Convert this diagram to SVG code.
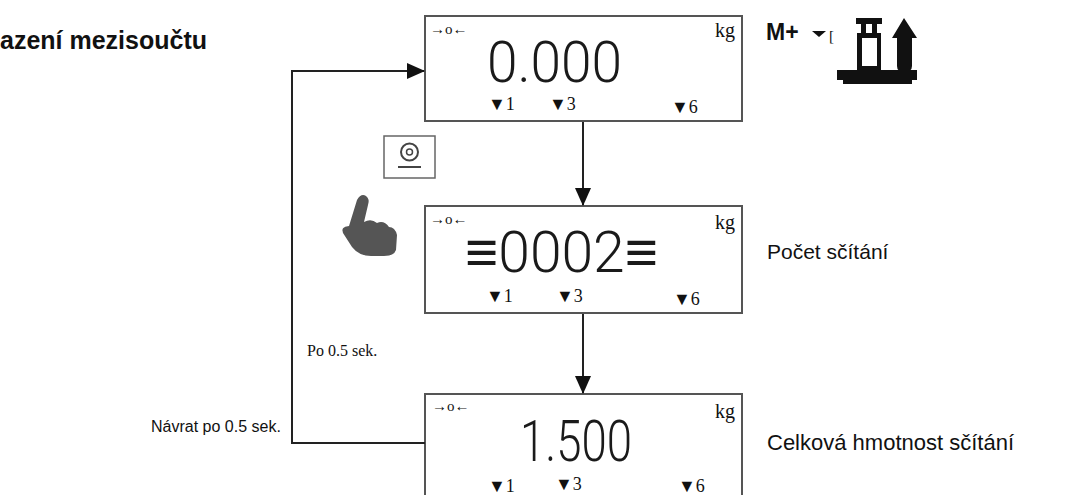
<svg xmlns="http://www.w3.org/2000/svg" width="1068" height="495" viewBox="0 0 1068 495">
<style>
.box{fill:#fff;stroke:#555;stroke-width:2}
.lbl{font-family:"Liberation Sans",Arial,sans-serif;fill:#111}
.bold{font-family:"Liberation Sans",Arial,sans-serif;font-weight:bold;fill:#111}
.ser{font-family:"Liberation Serif","Times New Roman",serif;fill:#111}
.lcd{font-family:"Roboto","Liberation Sans",Arial,sans-serif;font-weight:300;font-size:58px;fill:#1a1a1a}
.con{fill:none;stroke:#222;stroke-width:2}
</style>
<defs>
<marker id="ahb" markerWidth="18" markerHeight="18" refX="17" refY="9" orient="auto" markerUnits="userSpaceOnUse" viewBox="0 0 18 18">
<path d="M0,1 L18,9 L0,17 Z" fill="#111"/>
</marker>
</defs>

<text class="bold" x="0" y="49" font-size="25">azení mezisoučtu</text>

<g id="header-icon">
<text class="bold" x="766" y="40" font-size="23">M+</text>
<path d="M812,31 L826,31 L819,37 Z" fill="#111"/>
<text class="ser" x="829" y="41" font-size="15" fill="#555">[</text>
<rect x="856" y="18" width="26" height="6" fill="#111"/>
<rect x="861" y="24" width="5" height="10" fill="#111"/>
<rect x="872" y="24" width="5" height="10" fill="#111"/>
<path d="M857,33 H881 V70 H857 Z M862,38 V66 H877 V38 Z" fill="#111" fill-rule="evenodd"/>
<path d="M904,18 L917,38 L912,38 L912,66 Q912,72 904,72 Q897,72 897,66 L897,38 L892,38 Z" fill="#111"/>
<path d="M837,70 H917 V80 H912 V84 H843 V80 H837 Z" fill="#111"/>
</g>

<g id="display1">
<rect class="box" x="425" y="16" width="317" height="105"/>
<text class="ser" x="430" y="34" font-size="15">→o←</text>
<text class="ser" x="715" y="37" font-size="20">kg</text>
<text class="lcd" x="487" y="82" textLength="135" lengthAdjust="spacingAndGlyphs">0.000</text>
<text class="ser" x="488" y="110" font-size="18">▼1</text>
<text class="ser" x="549" y="110" font-size="18">▼3</text>
<text class="ser" x="671" y="113" font-size="18">▼6</text>
</g>

<g id="button">
<rect x="384" y="136" width="51" height="42" fill="#fff" stroke="#666" stroke-width="1.5"/>
<circle cx="409.5" cy="152" r="8.5" fill="none" stroke="#444" stroke-width="2"/>
<circle cx="409.5" cy="152" r="3" fill="none" stroke="#444" stroke-width="1.5"/>
<line x1="398" y1="167" x2="421" y2="167" stroke="#444" stroke-width="2"/>
</g>

<g id="hand">
<path d="M349,226 L357,200 Q361,193 366,196 Q370,199 368,205 L364,222 Q371,218 377,223 Q384,220 389,227 Q395,227 397,235 L396,250 Q394,256 384,256 L371,256 Q359,256 352,247 L343,233 Q340,227 349,226 Z" fill="#555"/>
</g>

<g id="display2">
<rect class="box" x="425" y="206" width="317" height="107"/>
<text class="ser" x="430" y="224" font-size="15">→o←</text>
<text class="ser" x="715" y="229" font-size="20">kg</text>
<text class="lcd" x="465" y="272" textLength="193" lengthAdjust="spacingAndGlyphs">≡0002≡</text>
<text class="ser" x="486" y="302" font-size="18">▼1</text>
<text class="ser" x="556" y="302" font-size="18">▼3</text>
<text class="ser" x="673" y="305" font-size="18">▼6</text>
</g>

<text class="lbl" x="767" y="259" font-size="21">Počet sčítání</text>
<text class="ser" x="307" y="356" font-size="16" fill="#222">Po 0.5 sek.</text>

<g id="display3">
<rect class="box" x="425" y="394" width="317" height="110"/>
<text class="ser" x="432" y="411" font-size="15">→o←</text>
<text class="ser" x="715" y="418" font-size="20">kg</text>
<text class="lcd" x="520" y="461" textLength="112" lengthAdjust="spacingAndGlyphs">1.500</text>
<text class="ser" x="488" y="492" font-size="18">▼1</text>
<text class="ser" x="555" y="490" font-size="18">▼3</text>
<text class="ser" x="678" y="492" font-size="18">▼6</text>
</g>

<text class="lbl" x="151" y="432" font-size="16">Návrat po 0.5 sek.</text>
<text class="lbl" x="767" y="450" font-size="22">Celková hmotnost sčítání</text>

<g id="connectors">
<line class="con" x1="583" y1="122" x2="583" y2="205" marker-end="url(#ahb)"/>
<line class="con" x1="583" y1="314" x2="583" y2="393" marker-end="url(#ahb)"/>
<path class="con" d="M425,443 H292 V71 H424" marker-end="url(#ahb)"/>
</g>
</svg>
